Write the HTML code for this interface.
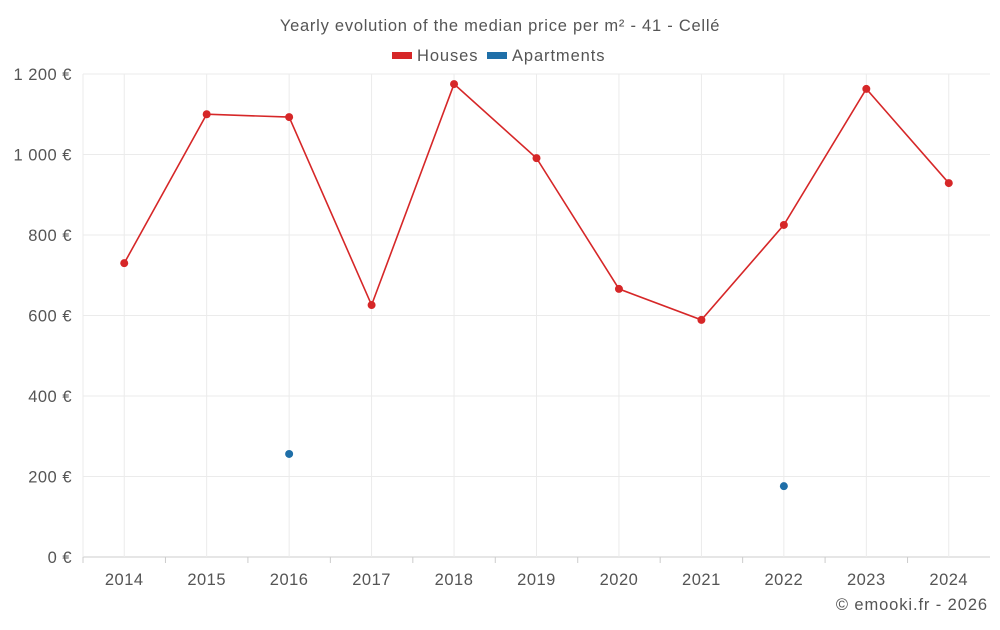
<!DOCTYPE html>
<html><head><meta charset="utf-8"><style>
body{margin:0;background:#fff;font-family:"Liberation Sans",sans-serif}
svg text{font-family:"Liberation Sans",sans-serif;fill:#555;letter-spacing:0.5px}
</style></head><body>
<svg id="c" width="1000" height="625">
<text x="500" y="31" text-anchor="middle" font-size="16.5" style="letter-spacing:0.75px">Yearly evolution of the median price per m² - 41 - Cellé</text>
<g>
<rect x="392" y="52" width="20" height="7" fill="#d62728"/>
<text x="417" y="61" font-size="16.5" style="letter-spacing:0.9px">Houses</text>
<rect x="487" y="52" width="20" height="7" fill="#1f6fa8"/>
<text x="512" y="61" font-size="16.5" style="letter-spacing:0.9px">Apartments</text>
</g>
<g id="grid"></g><g id="marks"></g>
<text x="988" y="610" text-anchor="end" font-size="16.5" style="letter-spacing:0.9px">© emooki.fr - 2026</text>
</svg>
<script>
const years=[2014,2015,2016,2017,2018,2019,2020,2021,2022,2023,2024];
const houses=[730,1100,1093,626,1175,991,666,589,825,1163,929];
const apartments=[null,null,256,null,null,null,null,null,176,null,null];
const yTicks=[0,200,400,600,800,1000,1200];
const yLabels=["0 €","200 €","400 €","600 €","800 €","1 000 €","1 200 €"];
const L=83,R=990,T=74,B=557;
const bw=(R-L)/years.length;
const x=i=>L+bw*(i+0.5);
const y=v=>B-(v/1200)*(B-T);
const NS="http://www.w3.org/2000/svg";
const g=document.getElementById('grid'),m=document.getElementById('marks');
function mk(tag,a,p){const e=document.createElementNS(NS,tag);for(const k in a)e.setAttribute(k,a[k]);p.appendChild(e);return e;}
yTicks.forEach((v,i)=>{
 const l=mk('line',{x1:L,x2:R,y1:y(v),y2:y(v),stroke:i==0?'#ccc':'#ebebeb'},g);
 
 
 const t=mk('text',{x:72,y:y(v)+6,'text-anchor':'end','font-size':16.5},g);t.textContent=yLabels[i];
 
 
});
years.forEach((yr,i)=>{
 const l=mk('line',{x1:x(i),x2:x(i),y1:T,y2:B,stroke:'#ebebeb'},g);
 
 
 const tk=mk('line',{x1:L+bw*i,x2:L+bw*i,y1:B,y2:B+6,stroke:'#ccc'},g);
 
 
 const t=mk('text',{x:x(i),y:585,'text-anchor':'middle','font-size':16.5},g);t.textContent=yr;
 
 
});
mk('line',{x1:L,x2:L,y1:T,y2:B,stroke:'#ebebeb'},g);
const pl=mk('polyline',{points:houses.map((v,i)=>x(i)+','+y(v)).join(' '),fill:'none',stroke:'#d62728','stroke-width':1.6},m);


houses.forEach((v,i)=>{const c=mk('circle',{cx:x(i),cy:y(v),r:4,fill:'#d62728'},m);
 
 });
apartments.forEach((v,i)=>{if(v==null)return;const c=mk('circle',{cx:x(i),cy:y(v),r:4,fill:'#1f6fa8'},m);
 
 });
</script>
</body></html>
